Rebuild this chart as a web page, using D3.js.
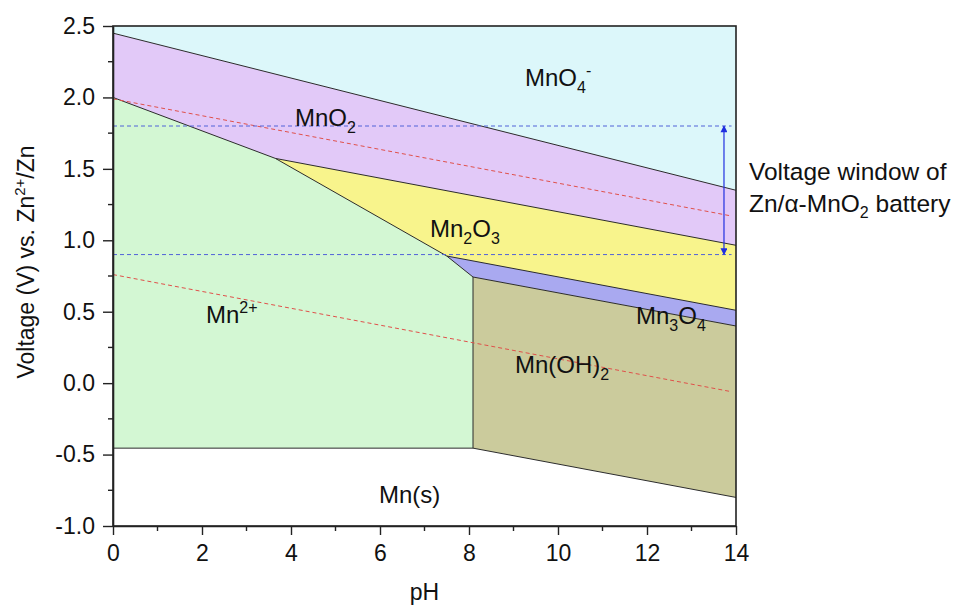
<!DOCTYPE html>
<html>
<head>
<meta charset="utf-8">
<script src="https://cdn.jsdelivr.net/npm/d3@7"></script>
<style>
  html, body { margin: 0; padding: 0; background: #ffffff; }
  svg { display: block; font-family: "Liberation Sans", Arial, sans-serif; }
</style>
</head>
<body>
<svg id="chart" width="957" height="606"></svg>
<script>
// Pourbaix (E–pH) diagram of manganese, potentials vs. Zn2+/Zn

const pHDomain = [0, 14];
const voltDomain = [-1.0, 2.5];
const xTicks = [0, 2, 4, 6, 8, 10, 12, 14];
const yTicks = [-1.0, -0.5, 0.0, 0.5, 1.0, 1.5, 2.0, 2.5];

// Stability-field vertices [pH, V]
const vMnO4top = [[0, 2.5], [14, 2.5]];
const vMnO4MnO2 = [[0, 2.45], [14, 1.35]];
const vMnO2Mn2 = [[0, 2.0], [3.65, 1.573]];
const vMnO2Mn2O3 = [[3.65, 1.573], [14, 0.965]];
const vMn2Mn2O3 = [[3.65, 1.573], [7.5, 0.89]];
const vMn2O3Mn3O4 = [[7.5, 0.89], [14, 0.51]];
const vMn2Mn3O4 = [[7.5, 0.89], [8.09, 0.743]];
const vMn3O4MnOH2 = [[8.09, 0.743], [14, 0.40]];
const vMn2MnOH2 = [[8.09, 0.743], [8.09, -0.455]];
const vMn2Mn = [[0, -0.455], [8.09, -0.455]];
const vMnOH2Mn = [[8.09, -0.455], [14, -0.80]];
const vBottom = [[14, -1.0], [0, -1.0]];

// Water stability lines (O2/H2O and H2/H+) and battery window
const waterO2 = [[0, 1.99], [13.9, 1.17]];
const waterH2 = [[0, 0.76], [13.9, -0.06]];
const windowLevels = [1.8, 0.9];
const windowArrowPH = 13.73;

const fieldColors = {
  MnO4: "#dcf7fa",
  MnO2: "#e2c9f8",
  Mn2: "#d3f7d3",
  Mn2O3: "#f8f48c",
  Mn3O4: "#a9a9f0",
  MnOH2: "#cbcb9c",
  Mn: "#ffffff"
};

const svg = d3.select("#chart");
const margin = { left: 113, right: 221, top: 26, bottom: 80 };
const W = 957, H = 606;

const x = d3.scaleLinear().domain(pHDomain).range([margin.left, W - margin.right]);
const y = d3.scaleLinear().domain(voltDomain).range([H - margin.bottom, margin.top]);

const P = p => [x(p[0]), y(p[1])];
const poly = pts => "M" + pts.map(p => P(p).join(",")).join("L") + "Z";

// Stability fields
const fields = [
  { key: "MnO4", pts: [vMnO4top[0], vMnO4top[1], vMnO4MnO2[1], vMnO4MnO2[0]] },
  { key: "MnO2", pts: [vMnO4MnO2[0], vMnO4MnO2[1], vMnO2Mn2O3[1], vMnO2Mn2O3[0], vMnO2Mn2[0]] },
  { key: "Mn2", pts: [vMnO2Mn2[0], vMnO2Mn2[1], vMn2Mn2O3[1], vMn2Mn3O4[1], vMn2MnOH2[1], vMn2Mn[0]] },
  { key: "Mn2O3", pts: [vMnO2Mn2O3[0], vMnO2Mn2O3[1], vMn2O3Mn3O4[1], vMn2O3Mn3O4[0]] },
  { key: "Mn3O4", pts: [vMn2O3Mn3O4[0], vMn2O3Mn3O4[1], vMn3O4MnOH2[1], vMn3O4MnOH2[0]] },
  { key: "MnOH2", pts: [vMn3O4MnOH2[0], vMn3O4MnOH2[1], vMnOH2Mn[1], vMnOH2Mn[0]] },
  { key: "Mn", pts: [vMn2Mn[0], vMn2Mn[1], vMnOH2Mn[1], vBottom[0], vBottom[1]] }
];

svg.append("g").selectAll("path").data(fields).join("path")
  .attr("d", d => poly(d.pts))
  .attr("fill", d => fieldColors[d.key])
  .attr("stroke", "none");

// Phase boundaries
const line = d3.line().x(d => x(d[0])).y(d => y(d[1]));
const boundaries = [vMnO4MnO2, vMnO2Mn2, vMnO2Mn2O3, vMn2Mn2O3, vMn2O3Mn3O4,
  vMn2Mn3O4, vMn3O4MnOH2, vMn2MnOH2, vMn2Mn, vMnOH2Mn];
svg.append("g").selectAll("path").data(boundaries).join("path")
  .attr("d", line)
  .attr("fill", "none")
  .attr("stroke", "#2b2b2b")
  .attr("stroke-width", 1);

// Water stability lines
svg.append("g").selectAll("path").data([waterO2, waterH2]).join("path")
  .attr("d", line)
  .attr("fill", "none")
  .attr("stroke", "#e0504a")
  .attr("stroke-width", 1)
  .attr("stroke-dasharray", "4,3");

// Voltage window levels
svg.append("g").selectAll("path").data(windowLevels).join("path")
  .attr("d", v => line([[0, v], [13.9, v]]))
  .attr("fill", "none")
  .attr("stroke", "#5062d8")
  .attr("stroke-width", 1)
  .attr("stroke-dasharray", "4,3");

// Double-headed arrow marking the window
const defs = svg.append("defs");
defs.append("marker")
  .attr("id", "arrowHead")
  .attr("viewBox", "0 0 10 10")
  .attr("refX", 9).attr("refY", 5)
  .attr("markerWidth", 13).attr("markerHeight", 7)
  .attr("markerUnits", "userSpaceOnUse")
  .attr("orient", "auto-start-reverse")
  .append("path")
  .attr("d", "M0,0L10,5L0,10Z")
  .attr("fill", "#1f2fe0");

svg.append("path")
  .attr("d", line([[windowArrowPH, windowLevels[0]], [windowArrowPH, windowLevels[1]]]))
  .attr("stroke", "#1f2fe0")
  .attr("stroke-width", 1.2)
  .attr("marker-start", "url(#arrowHead)")
  .attr("marker-end", "url(#arrowHead)");

// Frame
svg.append("rect")
  .attr("x", x(pHDomain[0])).attr("y", y(voltDomain[1]))
  .attr("width", x(pHDomain[1]) - x(pHDomain[0]))
  .attr("height", y(voltDomain[0]) - y(voltDomain[1]))
  .attr("fill", "none")
  .attr("stroke", "#222")
  .attr("stroke-width", 1.6);

// Axes
const fmtY = d => d3.format(".1f")(d).replace("−", "-");
const xAxis = d3.axisBottom(x).tickValues(xTicks).tickFormat(d3.format("d")).tickSizeOuter(0).tickSizeInner(9).tickPadding(10);
const yAxis = d3.axisLeft(y).tickValues(yTicks).tickFormat(fmtY).tickSizeOuter(0).tickSizeInner(10).tickPadding(8);

const gx = svg.append("g").attr("transform", `translate(0,${y(voltDomain[0])})`).call(xAxis);
const gy = svg.append("g").attr("transform", `translate(${x(pHDomain[0])},0)`).call(yAxis);

// Minor ticks
const xMinor = d3.range(1, 14, 2);
const yMinor = d3.range(-0.75, 2.5, 0.5);
gx.selectAll(".minor").data(xMinor).join("line")
  .attr("class", "minor")
  .attr("x1", d => x(d)).attr("x2", d => x(d))
  .attr("y1", 0).attr("y2", 5)
  .attr("stroke", "#222").attr("stroke-width", 1.4);
gy.selectAll(".minor").data(yMinor).join("line")
  .attr("class", "minor")
  .attr("y1", d => y(d)).attr("y2", d => y(d))
  .attr("x1", 0).attr("x2", -5)
  .attr("stroke", "#222").attr("stroke-width", 1.4);

[gx, gy].forEach(g => {
  g.select(".domain").attr("stroke", "#222").attr("stroke-width", 1.6);
  g.selectAll(".tick line").attr("stroke", "#222").attr("stroke-width", 1.4);
  g.selectAll(".tick text")
    .attr("font-family", "Liberation Sans, Arial, sans-serif")
    .attr("font-size", 23)
    .attr("fill", "#111");
});

// Axis titles
svg.append("text")
  .attr("x", (x(0) + x(14)) / 2).attr("y", 600)
  .attr("text-anchor", "middle")
  .attr("font-size", 23).attr("fill", "#111")
  .text("pH");

const yTitle = svg.append("text")
  .attr("transform", "translate(34,262) rotate(-90)")
  .attr("text-anchor", "middle")
  .attr("font-size", 23).attr("fill", "#111");
yTitle.append("tspan").text("Voltage (V) vs. Zn");
yTitle.append("tspan").attr("font-size", 15).attr("dy", -9).text("2+");
yTitle.append("tspan").attr("dy", 9).text("/Zn");

// Field labels: parts are [text, shift] where shift 1 = subscript, -1 = superscript
const fieldLabels = [
  { parts: [["MnO", 0], ["4", 1], ["-", -1]], px: 525, py: 86 },
  { parts: [["MnO", 0], ["2", 1]], px: 295, py: 126 },
  { parts: [["Mn", 0], ["2", 1], ["O", 0], ["3", 1]], px: 430, py: 237 },
  { parts: [["Mn", 0], ["3", 1], ["O", 0], ["4", 1]], px: 636, py: 324 },
  { parts: [["Mn(OH)", 0], ["2", 1]], px: 515, py: 373 },
  { parts: [["Mn", 0], ["2+", -1]], px: 206, py: 323 },
  { parts: [["Mn(s)", 0]], px: 379, py: 503 }
];

fieldLabels.forEach(l => {
  const t = svg.append("text")
    .attr("x", l.px).attr("y", l.py)
    .attr("font-size", 24).attr("fill", "#111");
  let prev = 0;
  l.parts.forEach(([s, shift]) => {
    const off = shift === 1 ? 7 : shift === -1 ? -10 : 0;
    t.append("tspan")
      .attr("dy", off - prev)
      .attr("font-size", shift === 0 ? 24 : 16)
      .text(s);
    prev = off;
  });
});

// Window annotation
const ann = svg.append("text").attr("font-size", 24.5).attr("fill", "#111");
ann.append("tspan").attr("x", 749).attr("y", 180).text("Voltage window of");
const ann2 = svg.append("text").attr("x", 749).attr("y", 212).attr("font-size", 24.5).attr("fill", "#111");
ann2.append("tspan").text("Zn/α-MnO");
ann2.append("tspan").attr("font-size", 16).attr("dy", 6).text("2");
ann2.append("tspan").attr("dy", -6).text(" battery");
</script>
</body>
</html>
